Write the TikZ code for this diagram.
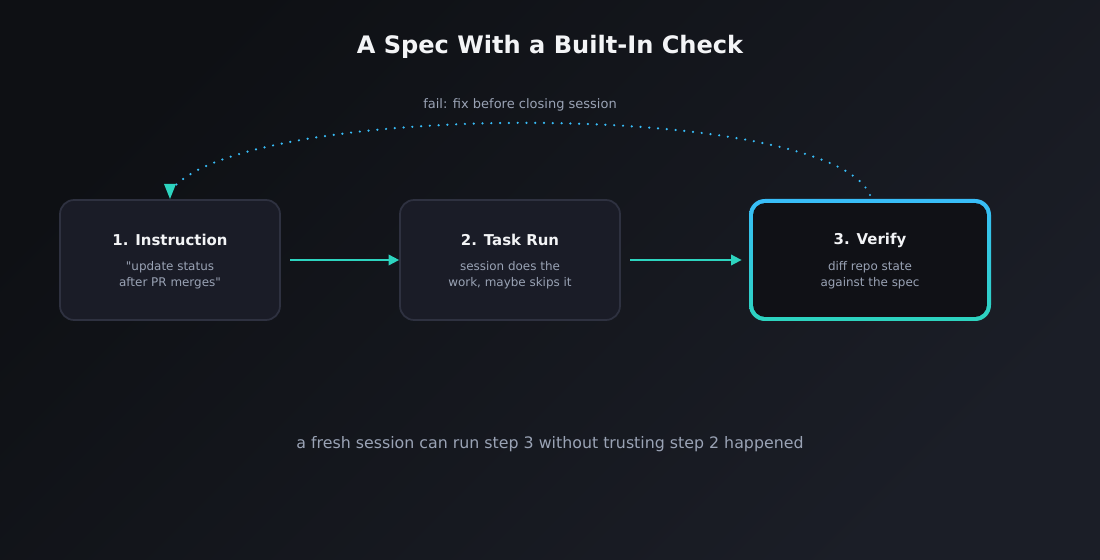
\documentclass[tikz,border=0pt]{standalone}
\usepackage{fontspec}
\setmainfont{DejaVu Sans}
\newfontfamily\plainfont{DejaVu Sans}
\usetikzlibrary{arrows.meta}
\definecolor{bgA}{HTML}{0E1014}
\definecolor{bgB}{HTML}{1B1E27}
\definecolor{boxfill}{HTML}{1A1C27}
\definecolor{boxline}{HTML}{2E3140}
\definecolor{vfill}{HTML}{101116}
\definecolor{teal}{HTML}{2DD4BF}
\definecolor{sky}{HTML}{38BDF8}
\definecolor{subtxt}{HTML}{9AA3B5}
\definecolor{titletxt}{HTML}{F3F4F6}
\tikzset{
  stagebox/.style={draw=boxline, line width=1pt, fill=boxfill, rounded corners=8pt,
    minimum width=4.4cm, minimum height=2.4cm},
  flow/.style={draw=teal, line width=1pt, -{Triangle[length=6pt,width=6pt]}},
  hd/.style={font=\fontsize{8.5}{10}\selectfont\bfseries, text=titletxt},
  sub/.style={font=\fontsize{6.8}{9}\selectfont, text=subtxt, align=center}
}
\begin{document}
\begin{tikzpicture}[x=0.02cm,y=-0.02cm]
  \shade[left color=bgA, right color=bgB, shading angle=45] (0,0) rectangle (1100,560);
  \useasboundingbox (0,0) rectangle (1100,560);
  \node[font=\fontsize{13.7}{16}\selectfont\bfseries, text=titletxt] (title) at (550,47) {A Spec With a Built-In Check};
  % steps
  \node[stagebox] (instr) at (170,260) {};
  \node[stagebox] (run) at (510,260) {};
  \shade[top color=sky, bottom color=teal, rounded corners=9pt] (749,199) rectangle (991,321);
  \node[stagebox, draw=none, fill=vfill, minimum width=4.68cm, minimum height=2.28cm, rounded corners=7pt] (verify) at (870,260) {};
  \node[hd] (instrH) at (170,240) {1. Instruction};
  \node[sub] (instrS) at (170,275) {{\plainfont"}update status\\after PR merges{\plainfont"}};
  \node[hd] (runH) at (510,240) {2. Task Run};
  \node[sub] (runS) at (510,275) {session does the\\work, maybe skips it};
  \node[hd] (verifyH) at (870,240) {3. Verify};
  \node[sub] (verifyS) at (870,275) {diff repo state\\against the spec};
  % connectors
  \coordinate (a1) at (290,260);
  \coordinate (a2) at (630,260);
  \draw[flow] (a1) -- (run.west);
  \draw[flow] (a2) -- ([xshift=-6pt]verify.west);
  \coordinate (loopS) at (870,195);
  \coordinate (loopE) at (170,199);
  \draw[draw=sky, line width=1.4pt, line cap=round, dash pattern=on 0pt off 5pt]
    (loopS) .. controls (830,100) and (250,100) .. (173,188);
  \draw[draw=none, fill=teal] (loopE) -- (164,184) -- (176,184) -- cycle;
  \node[font=\fontsize{7.4}{9}\selectfont, text=subtxt] (fail) at (520,105) {fail: fix before closing session};
  \node[font=\fontsize{9}{11}\selectfont, text=subtxt] (note) at (550,444) {a fresh session can run step 3 without trusting step 2 happened};
\end{tikzpicture}
\end{document}
